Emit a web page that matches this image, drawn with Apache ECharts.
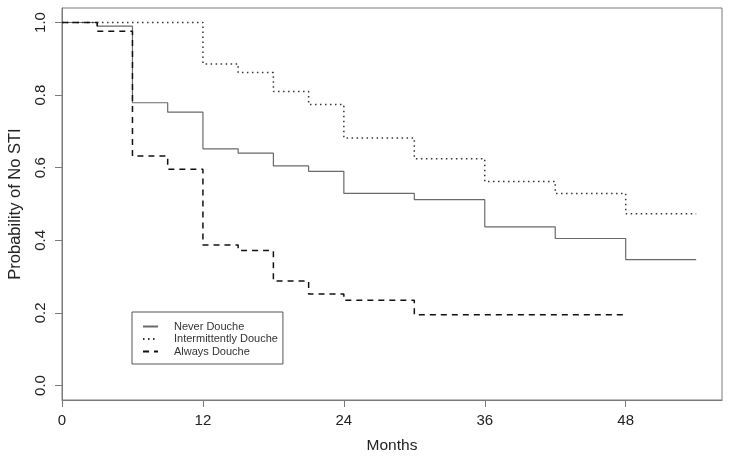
<!DOCTYPE html>
<html>
<head>
<meta charset="utf-8">
<script src="https://cdn.jsdelivr.net/npm/echarts@6/dist/echarts.min.js"></script>
<style>
html,body{margin:0;padding:0;background:#fff;}
#chart{width:729px;height:458px;}
</style>
</head>
<body>
<div id="chart"></div>
<script>
// Data (Kaplan-Meier step curves, months vs probability of no STI)
var neverTimes = [0, 3, 6, 9, 12, 15, 18, 21, 24, 30, 36, 42, 48, 54];
var neverSurv  = [1.0, 0.990, 0.779, 0.753, 0.652, 0.640, 0.605, 0.590, 0.529, 0.512, 0.437, 0.405, 0.347, 0.347];

var interTimes = [0, 12, 15, 18, 21, 24, 30, 36, 42, 48, 54];
var interSurv  = [1.0, 0.886, 0.862, 0.810, 0.774, 0.682, 0.625, 0.562, 0.529, 0.473, 0.473];

var alwaysTimes = [0, 3, 6, 9, 12, 15, 18, 21, 24, 30, 48];
var alwaysSurv  = [1.0, 0.976, 0.632, 0.596, 0.387, 0.372, 0.288, 0.252, 0.235, 0.195, 0.195];

var seriesNames = ['Never Douche', 'Intermittently Douche', 'Always Douche'];
var xTicks = [0, 12, 24, 36, 48];
var yTicks = [0, 0.2, 0.4, 0.6, 0.8, 1.0];

function pairs(t, s) { return t.map(function (v, i) { return [v, s[i]]; }); }

var axisColor = '#7a7a7a';
var textColor = '#222';
var font = 'Liberation Sans, Arial, Helvetica, sans-serif';

var chart = echarts.init(document.getElementById('chart'), null, { renderer: 'canvas' });
chart.setOption({
  animation: false,
  backgroundColor: '#fff',
  grid: {
    left: 62, top: 8, width: 660, height: 392,
    containLabel: false, outerBoundsMode: 'none',
    show: true, borderColor: axisColor, borderWidth: 1, backgroundColor: 'transparent'
  },
  legend: {
    orient: 'vertical',
    left: 132, top: 312,
    data: seriesNames,
    itemWidth: 15, itemHeight: 11, itemGap: 1.5,
    padding: [9, 5, 7, 10],
    borderColor: '#555', borderWidth: 1,
    backgroundColor: '#fff',
    itemStyle: { opacity: 0 },
    textStyle: { fontFamily: font, fontSize: 11, color: '#333', padding: [0, 0, 0, 11], lineHeight: 11 }
  },
  xAxis: {
    type: 'value', min: 0, max: 56.2,
    name: 'Months', nameLocation: 'middle', nameGap: 38,
    nameTextStyle: { fontFamily: font, fontSize: 15.5, color: textColor },
    axisLine: { show: true, onZero: false, lineStyle: { color: axisColor, width: 1 } },
    axisTick: { show: true, inside: false, length: 7, lineStyle: { color: axisColor }, customValues: xTicks },
    axisLabel: { customValues: xTicks, margin: 13, fontFamily: font, fontSize: 15, color: textColor },
    splitLine: { show: false }
  },
  yAxis: {
    type: 'value', min: -0.04, max: 1.04,
    name: 'Probability of No STI', nameLocation: 'middle', nameGap: 38,
    nameTextStyle: { fontFamily: font, fontSize: 16.5, color: textColor },
    axisLine: { show: true, onZero: false, lineStyle: { color: axisColor, width: 1 } },
    axisTick: { show: true, inside: false, length: 7, lineStyle: { color: axisColor }, customValues: yTicks },
    axisLabel: {
      customValues: yTicks, rotate: 90, margin: 14,
      fontFamily: font, fontSize: 15, color: textColor,
      formatter: function (v) { return v.toFixed(1); }
    },
    splitLine: { show: false }
  },
  series: [
    {
      name: seriesNames[0], type: 'line', step: 'end', symbol: 'none',
      data: pairs(neverTimes, neverSurv),
      lineStyle: { color: '#6a6a6a', width: 1.2, type: 'solid' },
      itemStyle: { color: '#6a6a6a' }
    },
    {
      name: seriesNames[1], type: 'line', step: 'end', symbol: 'none',
      data: pairs(interTimes, interSurv),
      lineStyle: { color: '#333', width: 1.5, type: [1.5, 3.5] },
      itemStyle: { color: '#333' }
    },
    {
      name: seriesNames[2], type: 'line', step: 'end', symbol: 'none',
      data: pairs(alwaysTimes, alwaysSurv),
      lineStyle: { color: '#111', width: 1.5, type: [6, 5] },
      itemStyle: { color: '#111' }
    }
  ]
});
</script>
</body>
</html>
